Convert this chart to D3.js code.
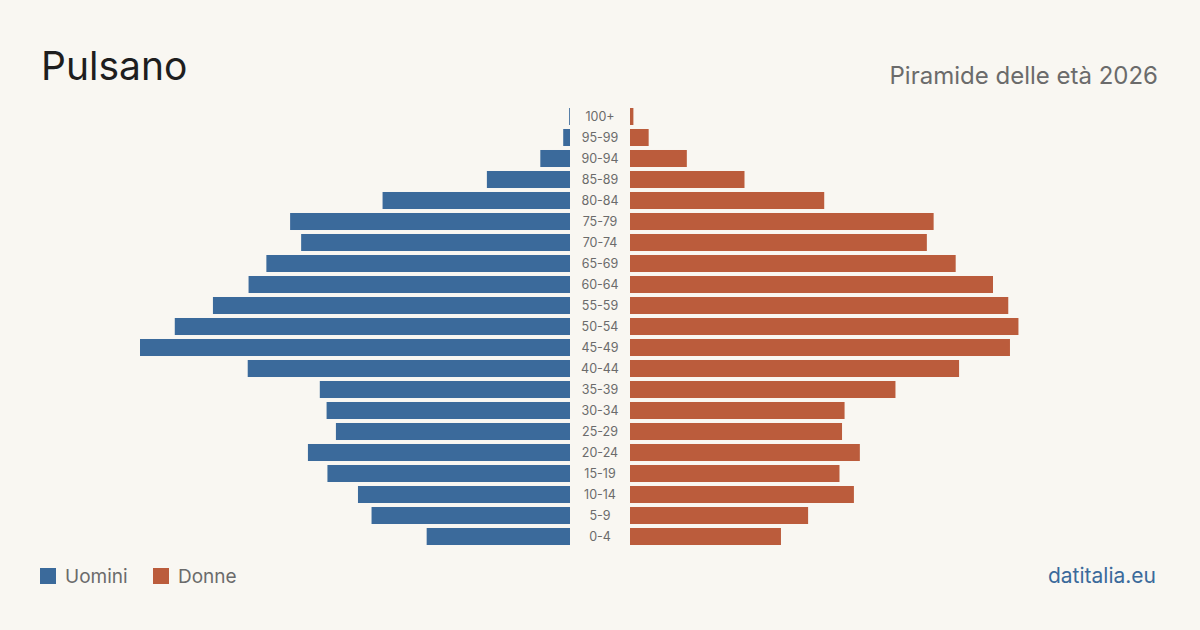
<!DOCTYPE html>
<html><head><meta charset="utf-8">
<script src="https://cdn.jsdelivr.net/npm/d3@7"></script>
<style>
html,body{margin:0;padding:0;background:#f9f7f2;}
svg{display:block;font-family:Inter,"Noto Sans",sans-serif;}
</style></head>
<body>
<svg id="chart" width="1200" height="630"></svg>
<script>
const ageGroups = ["100+","95-99","90-94","85-89","80-84","75-79","70-74","65-69","60-64","55-59","50-54","45-49","40-44","35-39","30-34","25-29","20-24","15-19","10-14","5-9","0-4"];
const maleValues = [1, 8, 35, 98, 221, 330, 317, 358, 379, 421, 466, 507, 380, 295, 287, 276, 309, 286, 250, 234, 169];
const femaleValues = [4, 22, 67, 135, 229, 358, 350, 384, 428, 446, 458, 448, 388, 313, 253, 250, 271, 247, 264, 210, 178];
const seriesNames = ["Uomini","Donne"];
const titleText = "Pulsano";
const subtitleText = "Piramide delle età 2026";
const sourceText = "datitalia.eu";

const colors = {male:"#3b6a9b", female:"#bb5c3c"};
const svg = d3.select("#chart");
svg.append("rect").attr("width",1200).attr("height",630).attr("fill","#f9f7f2");

const maxVal = d3.max(maleValues.concat(femaleValues));
const barMax = 430;
const leftEnd = 570, rightStart = 630, center = 600;

const xM = d3.scaleLinear().domain([0, maxVal]).range([leftEnd, leftEnd - barMax]);
const xF = d3.scaleLinear().domain([0, maxVal]).range([rightStart, rightStart + barMax]);
const y = d3.scaleBand().domain(ageGroups).range([106, 547]).paddingInner(0.19).paddingOuter(0.095);

const g = svg.append("g");
g.selectAll("rect.m").data(ageGroups).join("rect")
  .attr("class","m")
  .attr("x",(d,i)=>xM(maleValues[i]))
  .attr("y",d=>y(d))
  .attr("width",(d,i)=>leftEnd - xM(maleValues[i]))
  .attr("height",y.bandwidth())
  .attr("fill",colors.male);
g.selectAll("rect.f").data(ageGroups).join("rect")
  .attr("class","f")
  .attr("x",rightStart)
  .attr("y",d=>y(d))
  .attr("width",(d,i)=>xF(femaleValues[i]) - rightStart)
  .attr("height",y.bandwidth())
  .attr("fill",colors.female);
g.selectAll("text.age").data(ageGroups).join("text")
  .attr("class","age")
  .attr("x",center)
  .attr("y",d=>y(d)+y.bandwidth()/2)
  .attr("dy","0.35em")
  .attr("text-anchor","middle")
  .attr("font-size",12.5)
  .attr("fill","#6b6b6b")
  .text(d=>d);

svg.append("text").attr("x",41).attr("y",80).attr("font-size",39).attr("fill","#1e1e1e").text(titleText);
svg.append("text").attr("x",1158).attr("y",84).attr("text-anchor","end").attr("font-size",24).attr("fill","#6b6b6b").text(subtitleText);

const legend = svg.append("g");
const lx = [40, 153];
seriesNames.forEach((n,i)=>{
  legend.append("rect").attr("x",lx[i]).attr("y",568).attr("width",16).attr("height",16).attr("fill",i===0?colors.male:colors.female);
  legend.append("text").attr("x",lx[i]+25).attr("y",583).attr("font-size",19).attr("fill","#6b6b6b").text(n);
});
svg.append("text").attr("x",1156).attr("y",583).attr("text-anchor","end").attr("font-size",21).attr("fill","#3b6a9b").text(sourceText);
</script>
</body></html>
